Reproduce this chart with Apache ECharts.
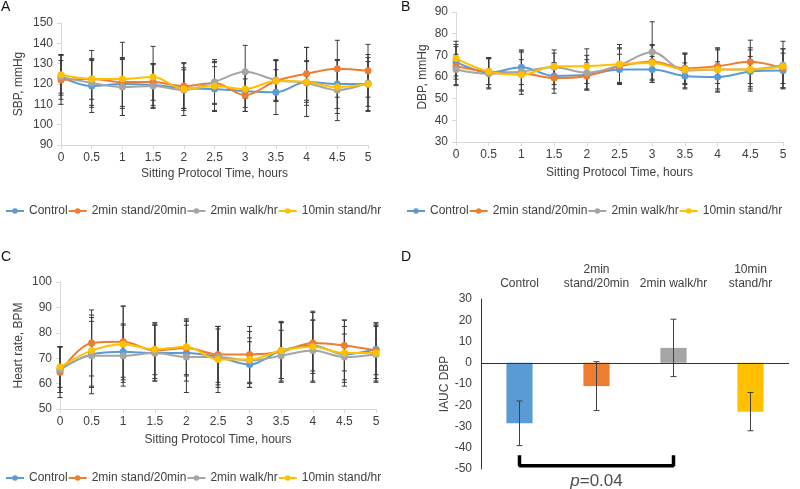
<!DOCTYPE html>
<html>
<head>
<meta charset="utf-8">
<script src="https://cdn.jsdelivr.net/npm/echarts@6/dist/echarts.min.js"></script>
<style>html,body{margin:0;padding:0;background:#fff;}#chart{width:800px;height:489px;}</style>
</head>
<body>
<div id="chart"></div>
<script>
// ---------- data ----------
const hours = [0, 0.5, 1, 1.5, 2, 2.5, 3, 3.5, 4, 4.5, 5];
const groupNames = ['Control', '2min stand/20min', '2min walk/hr', '10min stand/hr'];

// Panel A: SBP, mmHg
const sbpControl = [123.5, 119, 120, 119.5, 118, 117.5, 116.5, 116, 121, 120, 120];
const sbpStand20 = [122, 122.5, 121, 121, 119, 120.5, 114.5, 121.5, 125, 127.5, 126.5];
const sbpWalk = [123.5, 120.5, 118.5, 119, 117, 121, 126, 122, 120.5, 117, 120.5];
const sbpStand10 = [124.5, 122.5, 122.5, 123.5, 117.5, 119, 117.5, 121.5, 121, 118.5, 120];
const sbpErrControl = [11, 13, 12, 10, 10, 11, 10, 11, 10, 12, 13];
const sbpErrStand20 = [12, 10, 12, 9, 11, 10, 8, 10, 13, 14, 13];
const sbpErrWalk = [8, 11, 14, 11, 10, 11, 13, 10, 11, 15, 14];
const sbpErrStand10 = [10, 14, 18, 15, 13, 12, 9, 10, 17, 13, 11];

// Panel B: DBP, mmHg
const dbpControl = [67, 62, 64.5, 60.5, 61, 63.5, 63.5, 60.5, 60, 62.5, 63];
const dbpStand20 = [65, 62.5, 62, 59.5, 60.5, 65, 67, 64, 65, 67, 64];
const dbpWalk = [63.5, 61.5, 62.5, 64.5, 62, 65.5, 71.5, 63, 63.5, 63.5, 65.5];
const dbpStand10 = [68.5, 62.5, 61, 65, 65, 66, 66.5, 63.5, 63.5, 63.5, 65];
const dbpErrControl = [8, 7, 8, 6, 7, 7, 6, 6, 7, 7, 8];
const dbpErrStand20 = [9, 6, 10, 7, 6, 8, 8, 7, 8, 10, 9];
const dbpErrWalk = [7, 7, 9, 8, 8, 8, 14, 8, 10, 10, 11];
const dbpErrStand10 = [8, 6, 7, 6, 8, 9, 8, 7, 9, 9, 8];

// Panel C: Heart rate, BPM
const hrControl = [65.5, 71.5, 72.5, 72, 72, 70.5, 67.5, 73, 75, 71.5, 73.5];
const hrStand20 = [64.5, 76, 76.5, 73, 74, 71.5, 71.5, 72.5, 76, 75, 73];
const hrWalk = [65.5, 71, 71, 72, 70.5, 70.5, 69, 71, 73, 70.5, 71.5];
const hrStand10 = [66.5, 73, 75.5, 73.5, 74.5, 69.5, 69.5, 73, 74.5, 72, 72];
const hrErrControl = [9, 13, 11, 11, 11, 11, 9, 11, 10, 11, 10];
const hrErrStand20 = [10, 13, 14, 11, 11, 11, 11, 12, 12, 10, 11];
const hrErrWalk = [9, 15, 12, 11, 14, 12, 9, 10, 12, 9, 11];
const hrErrStand10 = [8, 14, 15, 10, 11, 13, 11, 11, 14, 13, 11];

// Panel D: IAUC DBP
const iaucCategories = ['Control', '2min\nstand/20min', '2min walk/hr', '10min\nstand/hr'];
const iaucValues = [-28.5, -11, 7, -23];
const iaucErr = [10.5, 11.5, 13.5, 9];
const bracketFrom = 0, bracketTo = 2, bracketTop = -43.5, bracketBottom = -48.5;
const pText = 'p=0.04';

// ---------- style ----------
const palette = ['#5B9BD5', '#ED7D31', '#A5A5A5', '#FFC000'];
const FONT = "'Liberation Sans', Arial, sans-serif";
const TXT = '#404040';
const AXISC = '#d9d9d9';

const chart = echarts.init(document.getElementById('chart'));

const panels = [
  {vals: [sbpControl, sbpStand20, sbpWalk, sbpStand10], errs: [sbpErrControl, sbpErrStand20, sbpErrWalk, sbpErrStand10],
   grid: {left: 61, top: 23, width: 307, height: 122}, y: [90, 150, 10], yName: 'SBP, mmHg', yGap: 36, xGap: 23, legendTop: 205, legendLeft: 5},
  {vals: [dbpControl, dbpStand20, dbpWalk, dbpStand10], errs: [dbpErrControl, dbpErrStand20, dbpErrWalk, dbpErrStand10],
   grid: {left: 456, top: 12, width: 327, height: 130}, y: [30, 90, 10], yName: 'DBP, mmHg', yGap: 27, xGap: 25, legendTop: 205, legendLeft: 406},
  {vals: [hrControl, hrStand20, hrWalk, hrStand10], errs: [hrErrControl, hrErrStand20, hrErrWalk, hrErrStand10],
   grid: {left: 60, top: 282, width: 316, height: 127}, y: [50, 100, 10], yName: 'Heart rate, BPM', yGap: 35, xGap: 25, legendTop: 472, legendLeft: 5}
];

function errRenderer(color, cap, lw) {
  return function (params, api) {
    const x = api.value(0), y = api.value(1), e = api.value(2);
    const hi = api.coord([x, y + e]);
    const lo = api.coord([x, y - e]);
    const st = {stroke: color, lineWidth: lw};
    return {type: 'group', children: [
      {type: 'line', shape: {x1: hi[0], y1: hi[1], x2: lo[0], y2: lo[1]}, style: st},
      {type: 'line', shape: {x1: hi[0] - cap, y1: hi[1], x2: hi[0] + cap, y2: hi[1]}, style: st},
      {type: 'line', shape: {x1: lo[0] - cap, y1: lo[1], x2: lo[0] + cap, y2: lo[1]}, style: st}
    ]};
  };
}

const grids = [], xAxes = [], yAxes = [], series = [], legends = [];
panels.forEach((p, pi) => {
  grids.push(p.grid);
  xAxes.push({
    type: 'value', gridIndex: pi, min: 0, max: 5, interval: 0.5,
    name: 'Sitting Protocol Time, hours', nameLocation: 'middle', nameGap: p.xGap,
    nameTextStyle: {color: TXT, fontSize: 12, fontFamily: FONT},
    axisLine: {show: true, onZero: false, lineStyle: {color: AXISC, width: 1}},
    axisTick: {show: true, length: 4, lineStyle: {color: AXISC}},
    axisLabel: {color: TXT, fontSize: 12, fontFamily: FONT, margin: 7},
    splitLine: {show: false}
  });
  yAxes.push({
    type: 'value', gridIndex: pi, min: p.y[0], max: p.y[1], interval: p.y[2],
    name: p.yName, nameLocation: 'middle', nameGap: p.yGap,
    nameTextStyle: {color: TXT, fontSize: 12, fontFamily: FONT},
    axisLine: {show: true, lineStyle: {color: AXISC, width: 1}},
    axisTick: {show: true, length: 4, lineStyle: {color: AXISC}},
    axisLabel: {color: TXT, fontSize: 12, fontFamily: FONT, margin: 8},
    splitLine: {show: false}
  });
  groupNames.forEach((name, si) => {
    series.push({
      type: 'custom', name: 'err-' + pi + '-' + si, xAxisIndex: pi, yAxisIndex: pi, z: 1, silent: true,
      renderItem: errRenderer('#3a3a3a', 2.5, 1),
      data: hours.map((h, i) => [h, p.vals[si][i], p.errs[si][i]])
    });
  });
  groupNames.forEach((name, si) => {
    series.push({
      type: 'line', name: name, xAxisIndex: pi, yAxisIndex: pi, z: 3,
      smooth: 0.35, symbol: 'circle', symbolSize: 7,
      lineStyle: {color: palette[si], width: 2},
      itemStyle: {color: palette[si]},
      data: hours.map((h, i) => [h, p.vals[si][i]])
    });
  });
  legends.push({
    data: groupNames, left: p.legendLeft, top: p.legendTop, padding: 0, width: 394,
    itemWidth: 18, itemHeight: 7, itemGap: 0, orient: 'horizontal',
    textStyle: {color: TXT, fontSize: 12, fontFamily: FONT},
    selectedMode: false
  });
});

// Panel D
grids.push({left: 481, top: 299, width: 308, height: 170});
xAxes.push({
  type: 'category', gridIndex: 3, data: iaucCategories, position: 'top',
  axisLine: {show: false, onZero: false}, axisTick: {show: false},
  axisLabel: {color: TXT, fontSize: 12, fontFamily: FONT, margin: 8, interval: 0, lineHeight: 14},
  splitLine: {show: false}
});
yAxes.push({
  type: 'value', gridIndex: 3, min: -50, max: 30, interval: 10,
  name: 'IAUC DBP', nameLocation: 'middle', nameGap: 29,
  nameTextStyle: {color: TXT, fontSize: 12, fontFamily: FONT},
  axisLine: {show: true, lineStyle: {color: '#333', width: 1}},
  axisTick: {show: false},
  axisLabel: {color: TXT, fontSize: 12, fontFamily: FONT, margin: 9},
  splitLine: {show: false}
});
series.push({
  type: 'bar', name: 'IAUC', xAxisIndex: 3, yAxisIndex: 3, barWidth: '34%', z: 2,
  data: iaucValues.map((v, i) => ({value: v, itemStyle: {color: palette[i]}})),
  markLine: {silent: true, symbol: ['none', 'none'], label: {show: false},
    lineStyle: {color: '#333', width: 1, type: 'solid'}, data: [{yAxis: 0}], animation: false}
});
series.push({
  type: 'custom', name: 'iauc-err', xAxisIndex: 3, yAxisIndex: 3, z: 4, silent: true,
  renderItem: errRenderer('#404040', 3, 1),
  data: iaucValues.map((v, i) => [i, v, iaucErr[i]])
});
series.push({
  type: 'line', name: 'bracket', xAxisIndex: 3, yAxisIndex: 3, z: 5, silent: true,
  symbol: 'none', lineStyle: {color: '#000', width: 3.5}, itemStyle: {color: '#000'},
  data: [[bracketFrom, bracketTop], [bracketFrom, bracketBottom], [bracketTo, bracketBottom], [bracketTo, bracketTop]]
});
series.push({
  type: 'scatter', name: 'pval', xAxisIndex: 3, yAxisIndex: 3, z: 5, silent: true,
  symbolSize: 1, itemStyle: {color: 'rgba(0,0,0,0)'},
  label: {show: true, position: 'bottom', distance: 6, formatter: '{i|p}' + pText.slice(1),
    color: '#222', fontSize: 17, fontFamily: FONT,
    rich: {i: {fontStyle: 'italic', fontSize: 17, color: '#222', fontFamily: FONT}}},
  data: [[(bracketFrom + bracketTo) / 2, bracketBottom]]
});

const titles = [
  {text: 'A', left: 1, top: 0},
  {text: 'B', left: 401, top: 0},
  {text: 'C', left: 1, top: 250},
  {text: 'D', left: 401, top: 250}
].map(t => Object.assign(t, {textStyle: {fontSize: 14, fontWeight: 'normal', color: '#111', fontFamily: FONT}, padding: 0}));

chart.setOption({
  animation: false,
  backgroundColor: '#fff',
  color: palette,
  title: titles,
  grid: grids,
  xAxis: xAxes,
  yAxis: yAxes,
  legend: legends,
  series: series
});
</script>
</body>
</html>
